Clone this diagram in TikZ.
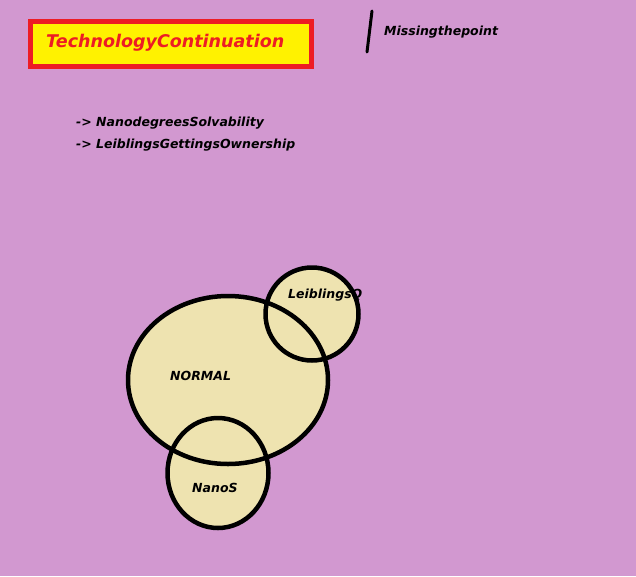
\documentclass[tikz,border=0pt]{standalone}
\usepackage{fontspec}
\setmainfont{DejaVu Sans}
\usetikzlibrary{shapes.geometric,backgrounds}
\definecolor{bgpurple}{RGB}{210,152,208}
\definecolor{khaki}{RGB}{238,227,176}
\definecolor{titlered}{RGB}{237,28,36}
\definecolor{titleyellow}{RGB}{255,242,0}
\tikzset{
  lbl/.style={font=\bfseries\itshape\fontsize{12.5}{15}\selectfont, text=black, inner sep=0pt},
  blob/.style={ellipse, draw=black, line width=4.5pt, inner sep=0pt},
}
\begin{document}
\begin{tikzpicture}[x=1pt,y=-1pt]
\begin{scope}[on background layer]
\fill[bgpurple] (0,0) rectangle (636,576);
\end{scope}
\useasboundingbox (0,0) rectangle (636,576);
% title
\node[draw=titlered, line width=4.5pt, fill=titleyellow, minimum width=281pt, minimum height=45pt, anchor=north west, inner sep=0pt] (title) at (28,19) {};
\node[font=\bfseries\itshape\fontsize{17.5}{21}\selectfont, text=titlered, anchor=west, inner sep=0pt] (titletext) at (46,43) {TechnologyContinuation};
% missing the point
\coordinate (mtop) at (372,11);
\coordinate (mbot) at (367,52);
\draw[line width=3pt, line cap=round] (mtop) -- (mbot);
\node[lbl, anchor=west] (missing) at (384,32) {Missingthepoint};
% list
\node[lbl, anchor=west] (item1) at (76,123) {->~NanodegreesSolvability};
\node[lbl, anchor=west] (item2) at (76,145) {->~LeiblingsGettingsOwnership};
% ellipses
\node[blob, minimum width=200pt, minimum height=168pt] (normal) at (228,380) {};
\node[blob, minimum width=93pt, minimum height=93pt] (leib) at (312,314) {};
\node[blob, minimum width=101pt, minimum height=110pt] (nanos) at (218,473) {};
\begin{scope}[on background layer]
\fill[khaki] (normal.center) ellipse [x radius=100, y radius=84];
\fill[khaki] (leib.center) ellipse [x radius=46.5, y radius=46.5];
\fill[khaki] (nanos.center) ellipse [x radius=50.5, y radius=55];
\end{scope}
\node[lbl, anchor=west] (normaltext) at (170,376) {NORMAL};
\node[lbl, anchor=west] (leibtext) at (288,295) {LeiblingsQ};
\node[lbl, anchor=west] (nanostext) at (192,488) {NanoS};
\end{tikzpicture}
\end{document}
